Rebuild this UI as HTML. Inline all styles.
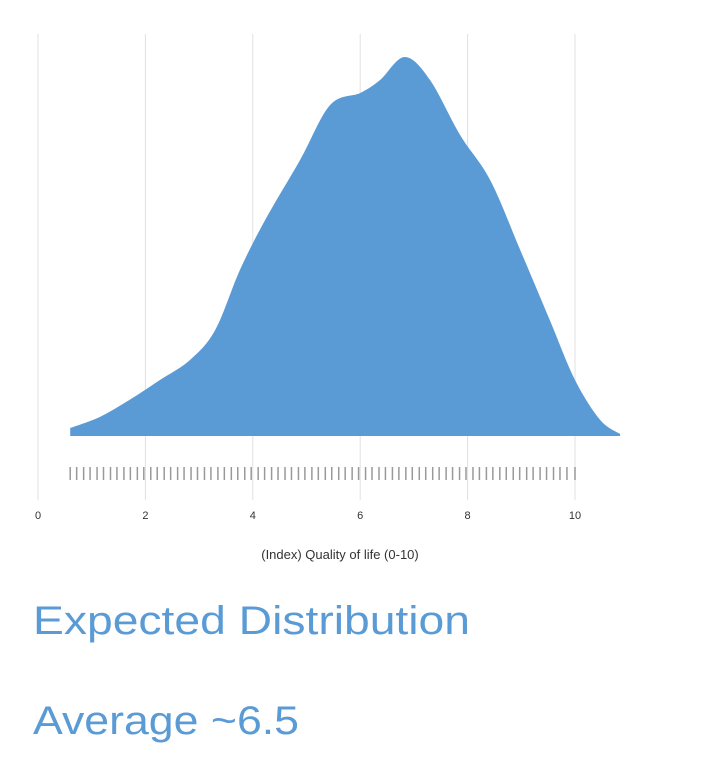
<!DOCTYPE html>
<html><head><meta charset="utf-8"><style>html,body{margin:0;padding:0;background:#fff;}svg{display:block;}</style></head>
<body>
<svg id="chart" width="711" height="780" xmlns="http://www.w3.org/2000/svg" font-family="Liberation Sans, sans-serif">
<g id="grid"></g>
<path id="area" fill="#5b9bd5"/>
<g id="rug"></g>
<g id="ticks"></g>
<text x="340" y="559" text-anchor="middle" font-size="13" fill="#333">(Index) Quality of life (0-10)</text>
<text x="33" y="634" font-size="40" fill="#5b9bd5" textLength="437" lengthAdjust="spacingAndGlyphs">Expected Distribution</text>
<text x="33" y="734" font-size="40" fill="#5b9bd5" textLength="266" lengthAdjust="spacingAndGlyphs">Average ~6.5</text>
</svg>
<script>
const tickValues = [0, 2, 4, 6, 8, 10];
const densityX = [0.6, 1.15, 1.7, 2.27, 2.83, 3.3, 3.76, 4.23, 4.88, 5.44, 6.0, 6.37, 6.83, 7.3, 7.86, 8.42, 8.98, 9.53, 10.0, 10.47, 10.84];
const densityY = [0.008, 0.019, 0.036, 0.056, 0.076, 0.106, 0.166, 0.216, 0.276, 0.331, 0.343, 0.356, 0.379, 0.356, 0.301, 0.256, 0.186, 0.116, 0.056, 0.016, 0.002];
const rugValues = [0.6,0.72,0.85,0.97,1.1,1.22,1.35,1.47,1.6,1.72,1.85,1.97,2.1,2.22,2.35,2.47,2.6,2.72,2.85,2.97,3.1,3.22,3.35,3.47,3.6,3.72,3.85,3.97,4.1,4.22,4.35,4.47,4.6,4.72,4.85,4.97,5.1,5.22,5.35,5.47,5.6,5.72,5.85,5.97,6.1,6.22,6.35,6.47,6.6,6.72,6.85,6.97,7.1,7.22,7.35,7.47,7.6,7.72,7.85,7.97,8.1,8.22,8.35,8.47,8.6,8.72,8.85,8.97,9.1,9.22,9.35,9.47,9.6,9.72,9.85,10.0];
const NS = 'http://www.w3.org/2000/svg';
const xs = v => 38 + v * 53.7;
const ys = d => 436 - d * 1000;
const grid = document.getElementById('grid');
const ticks = document.getElementById('ticks');
tickValues.forEach(v => {
  const l = document.createElementNS(NS, 'line');
  
  
  l.setAttribute('x1', xs(v)); l.setAttribute('x2', xs(v));
  l.setAttribute('y1', 34); l.setAttribute('y2', 500);
  l.setAttribute('stroke', '#e0e0e0'); l.setAttribute('stroke-width', 1);
  grid.appendChild(l);
  const t = document.createElementNS(NS, 'text');
  
  
  t.setAttribute('x', xs(v)); t.setAttribute('y', 519);
  t.setAttribute('text-anchor', 'middle'); t.setAttribute('font-size', 11); t.setAttribute('fill', '#333');
  t.textContent = v;
  ticks.appendChild(t);
});
const pts = densityX.map((x, i) => [xs(x), ys(densityY[i])]);
let d = `M${pts[0][0]},436 L${pts[0][0]},${pts[0][1]}`;
for (let i = 0; i < pts.length - 1; i++) {
  const p0 = pts[Math.max(0, i - 1)], p1 = pts[i], p2 = pts[i + 1], p3 = pts[Math.min(pts.length - 1, i + 2)];
  const c1 = [p1[0] + (p2[0] - p0[0]) / 6, p1[1] + (p2[1] - p0[1]) / 6];
  const c2 = [p2[0] - (p3[0] - p1[0]) / 6, p2[1] - (p3[1] - p1[1]) / 6];
  d += ` C${c1[0]},${c1[1]} ${c2[0]},${c2[1]} ${p2[0]},${p2[1]}`;
}
d += ` L${pts[pts.length - 1][0]},436 Z`;
document.getElementById('area').setAttribute('d', d);
const rug = document.getElementById('rug');
rugValues.forEach(v => {
  const l = document.createElementNS(NS, 'line');
  
  
  l.setAttribute('x1', xs(v)); l.setAttribute('x2', xs(v));
  l.setAttribute('y1', 467); l.setAttribute('y2', 480);
  l.setAttribute('stroke', '#999'); l.setAttribute('stroke-width', 1.5);
  rug.appendChild(l);
});
</script>
</body></html>
